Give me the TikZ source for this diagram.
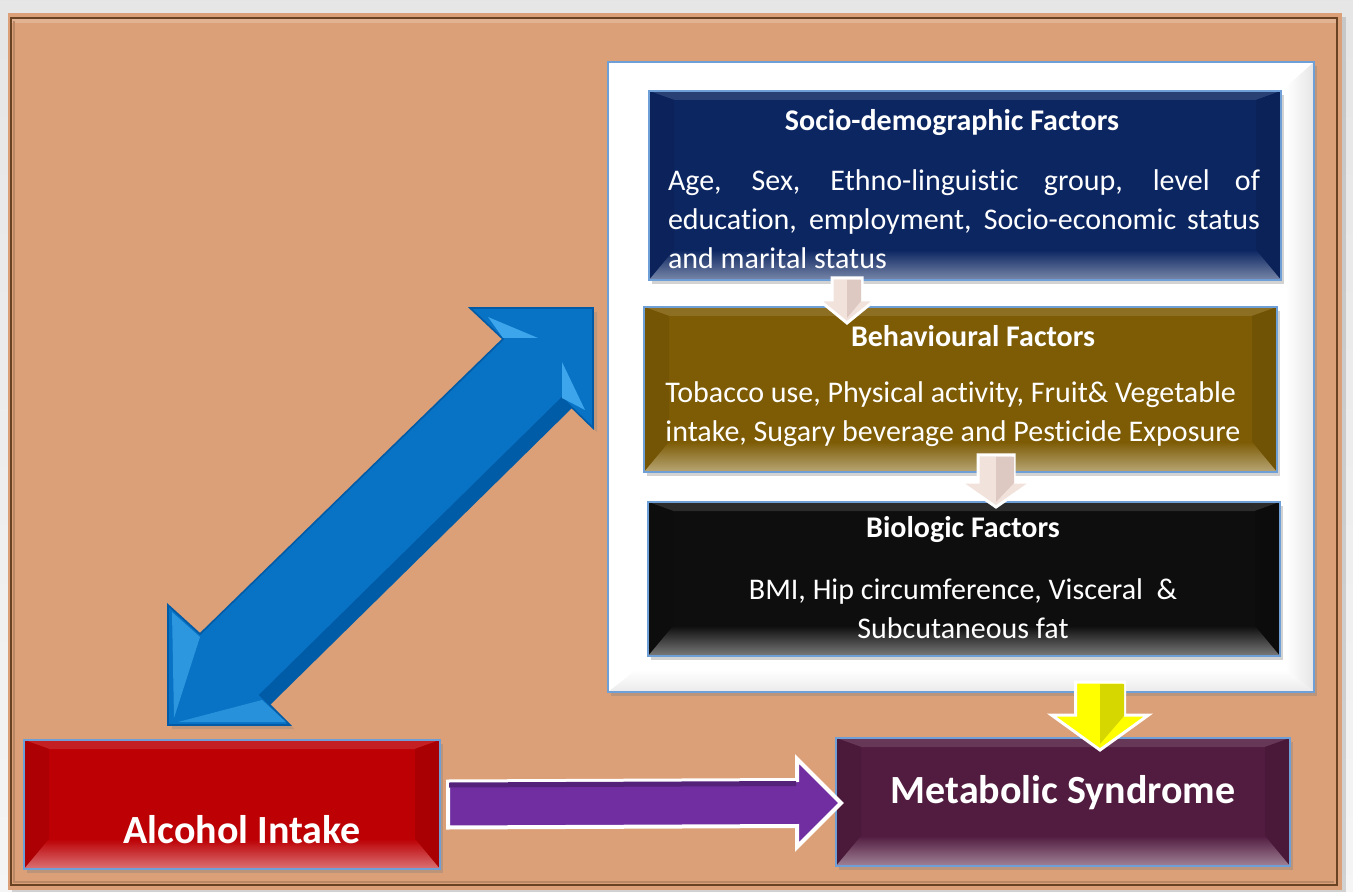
\documentclass[tikz,border=0pt]{standalone}
\usepackage{fontspec}
\setmainfont{Carlito}[Ligatures=NoCommon]
\usetikzlibrary{calc,shadows}
\definecolor{bgorange}{RGB}{219,160,119}
\definecolor{framebrown}{RGB}{105,65,35}
\definecolor{navyc}{RGB}{12,38,98}
\definecolor{olivec}{RGB}{125,92,5}
\definecolor{blackc}{RGB}{14,14,14}
\definecolor{plumc}{RGB}{82,28,64}
\definecolor{redc}{RGB}{188,0,4}
\definecolor{purplec}{RGB}{112,46,160}
\definecolor{bluec}{RGB}{8,114,196}
\definecolor{bluedk}{RGB}{0,90,165}
\definecolor{bluelt}{RGB}{60,165,235}
\definecolor{borderblue}{RGB}{110,160,215}
\definecolor{pinkc}{RGB}{242,226,220}
\definecolor{pinkdk}{RGB}{222,200,194}
\definecolor{yellowc}{RGB}{255,255,0}
\definecolor{yellowdk}{RGB}{215,215,0}
\newcommand{\bevelbox}[2]{%
  \fill[#2!88!white] (#1.north west) -- (#1.north east) -- ([shift={(-25,9)}]#1.north east) -- ([shift={(25,9)}]#1.north west) -- cycle;
  \fill[#2!92!black] (#1.north west) -- ([shift={(25,9)}]#1.north west) -- ([shift={(25,-30)}]#1.south west) -- (#1.south west) -- cycle;
  \fill[#2!90!black] (#1.north east) -- ([shift={(-25,9)}]#1.north east) -- ([shift={(-25,-30)}]#1.south east) -- (#1.south east) -- cycle;
  \shade[top color=#2, bottom color=#2!55!white] (#1.south west) -- ([shift={(25,-30)}]#1.south west) -- ([shift={(-25,-30)}]#1.south east) -- (#1.south east) -- cycle;
  \draw[borderblue, line width=1.2pt] (#1.north west) rectangle (#1.south east);
}
\newcommand{\dnarrow}[7]{%
  \fill[#1, draw=white, line width=1.5pt, line join=miter] ({#2-#6},#3) -- ({#2+#6},#3) -- ({#2+#6},#4) -- ({#2+#7},#4) -- (#2,#5) -- ({#2-#7},#4) -- ({#2-#6},#4) -- cycle;
}
\begin{document}
\begin{tikzpicture}[x=0.5pt,y=-0.5pt,
  box/.style={rectangle, inner sep=0pt, outer sep=0pt, draw=none, drop shadow={opacity=0.35, shadow xshift=1.5pt, shadow yshift=-2pt}},
  boxtext/.style={text=white, inner sep=0pt, align=center, font=\fontsize{15}{19.5}\selectfont},
  boxtitle/.style={text=white, inner sep=0pt, font=\bfseries\fontsize{15}{18}\selectfont},
  bigtitle/.style={text=white, inner sep=0pt, font=\bfseries\fontsize{20}{24}\selectfont},
  arrowpink/.style={fill=pinkc},
  arrowyellow/.style={fill=yellowc}]
\useasboundingbox (0,0) rectangle (1353,892);
% background
\shade[top color=black!10, bottom color=black!4] (0,0) rectangle (1353,892);
\fill[bgorange, drop shadow={opacity=0.3, shadow xshift=2pt, shadow yshift=-2pt}] (8,13) rectangle (1342,890);
\fill[bgorange!80!white] (12,19) rectangle (1336,23);
\draw[framebrown, line width=1.3pt] (11,18) rectangle (1337,885);
\draw[bgorange!85!black, line width=1pt] (14,21) -- (14,882) -- (1334,882);

% white panel
\node[box, fill=white, minimum width=353pt, minimum height=315pt] (panel) at (961,377) {};
\shade[left color=white, right color=black!10] (panel.north east) -- ([shift={(-28,25)}]panel.north east) -- ([shift={(-28,-22)}]panel.south east) -- (panel.south east) -- cycle;
\shade[top color=white, bottom color=black!8] (panel.south west) -- ([shift={(28,-22)}]panel.south west) -- ([shift={(-28,-22)}]panel.south east) -- (panel.south east) -- cycle;
\draw[borderblue, line width=1.3pt] (panel.north west) rectangle (panel.south east);

% factor boxes
\node[box, fill=navyc, minimum width=316pt, minimum height=94.5pt] (socio) at (965,185.5) {};
\bevelbox{socio}{navyc}
\node[box, fill=olivec, minimum width=316.5pt, minimum height=82.5pt] (behav) at (960.5,389.5) {};
\bevelbox{behav}{olivec}
\node[box, fill=blackc, minimum width=316pt, minimum height=77pt] (bio) at (964,579) {};
\bevelbox{bio}{blackc}
\node[box, fill=plumc, minimum width=227pt, minimum height=64pt] (met) at (1063,802) {};
\bevelbox{met}{plumc}
\node[box, fill=redc, minimum width=208pt, minimum height=64.5pt] (alc) at (232,804.5) {};
\bevelbox{alc}{redc}

% texts
\node[boxtitle] (sociot) at (952,123) {Socio-demographic Factors};
\node[boxtext, align=left] (sociob) at (964,219) {\makebox[296pt][s]{Age, Sex, Ethno-linguistic group, level of}\\\makebox[296pt][s]{education, employment, Socio-economic status}\\and marital status\hspace*{\fill}};
\node[boxtitle] (behavt) at (973,336) {Behavioural Factors};
\node[boxtext, align=left, anchor=west] (behavb) at (665,414.5) {Tobacco use, Physical activity, Fruit\& Vegetable\\intake, Sugary beverage and Pesticide Exposure};
\node[boxtitle] (biot) at (963,530) {Biologic Factors};
\node[boxtext] (biob) at (963,609) {BMI, Hip circumference, Visceral \ \&\\Subcutaneous fat};
\node[bigtitle] (mett) at (1063,793) {Metabolic Syndrome};
\node[bigtitle] (alct) at (242,830) {Alcohol Intake};

% small down arrows between factor boxes
\dnarrow{arrowpink}{847}{278}{300}{323}{15}{28}
\fill[pinkdk] (847,280) -- (861,280) -- (861,301) -- (847,318) -- cycle;
\dnarrow{arrowpink}{996}{455}{482}{507}{18}{36}
\fill[pinkdk] (996,457) -- (1014,457) -- (1014,483) -- (996,502) -- cycle;
% yellow arrow panel -> metabolic
\dnarrow{arrowyellow}{1100}{682}{715}{750}{24.5}{48.5}
\fill[yellowdk] (1100,684) -- (1124,684) -- (1124,716) -- (1100,744) -- cycle;

% purple arrow alcohol -> metabolic
\coordinate (pa) at ([shift={(8,0)}]alc.east);
\coordinate (pb) at ([shift={(5,1)}]met.west);
\fill[purplec, draw=white, line width=2pt, line join=miter]
  ($(pa)+(0,-23)$) -- ($(pb)+(-44,-23)$) -- ($(pb)+(-44,-44)$) -- (pb) -- ($(pb)+(-44,44)$) -- ($(pb)+(-44,23)$) -- ($(pa)+(0,23)$) -- cycle;
\fill[purplec!75!black] ($(pa)+(1,-22)$) -- ($(pb)+(-45,-22)$) -- ($(pb)+(-45,-17)$) -- ($(pa)+(1,-17)$) -- cycle;

% blue double arrow
\coordinate (btr) at (593,308);
\coordinate (bbl) at (168,725);
\fill[bluec, draw=bluedk, line width=0.8pt, line join=miter, drop shadow={opacity=0.3, shadow xshift=2pt, shadow yshift=-2pt}]
  (btr) -- (470,308) -- (503,339) -- (200,634) -- (168,605) -- (bbl) -- (290,725) -- (260,695) -- (562,398) -- (593,428) -- cycle;
\fill[bluedk!90!bluec] (562,398) -- (260,695) -- (270,705) -- (572,408) -- cycle;
\fill[bluelt] (488,317) -- (538,338) -- (503,338) -- cycle;
\fill[bluelt] (562,362) -- (585,410) -- (562,398) -- cycle;
\fill[bluelt!70!bluec] (172,612) -- (200,637) -- (174,718) -- cycle;
\fill[bluelt!60!bluec] (178,722) -- (262,700) -- (286,722) -- cycle;
\end{tikzpicture}
\end{document}
